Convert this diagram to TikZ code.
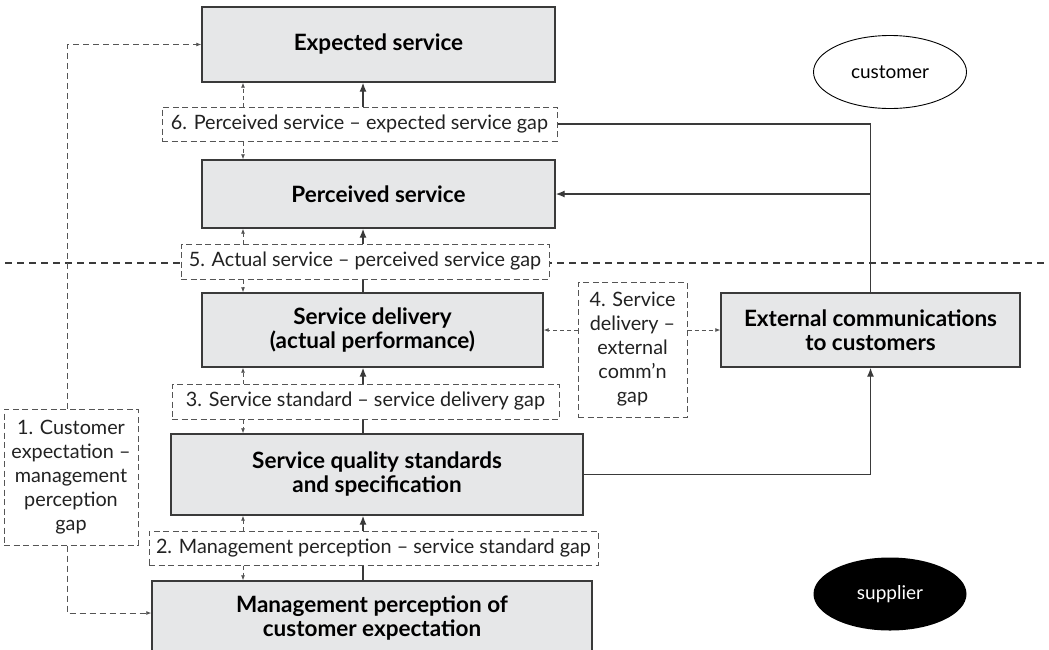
\documentclass[tikz,border=0pt]{standalone}
\usepackage{fontspec}
\setmainfont{Lato}
\usepackage{tikz}
\usetikzlibrary{calc,arrows.meta,shapes.geometric}
\definecolor{ink}{HTML}{222222}
\definecolor{edge}{HTML}{3A3A3A}
\definecolor{boxbg}{HTML}{E6E7E8}
\definecolor{gapline}{HTML}{555555}
\tikzset{
  box/.style={draw=edge, fill=boxbg, line width=1.4pt, align=center, inner sep=0pt, text=black, font=\fontsize{22.5}{24}\selectfont\bfseries},
  gapbox/.style={draw=gapline, fill=white, dash pattern=on 6pt off 3.5pt, line width=1pt, align=center, inner sep=0pt, text=ink, font=\fontsize{19.8}{24}\selectfont},
  flow/.style={draw=edge, line width=1.3pt, -{Latex[length=9pt,width=7pt]}},
  link/.style={draw=edge, line width=1.3pt},
  hint/.style={draw=gapline, line width=0.8pt, dash pattern=on 4pt off 3pt, -{Latex[length=5pt,width=4pt]}},
  gaploop/.style={hint, dash pattern=on 6pt off 4pt},
  party/.style={ellipse, minimum width=153pt, minimum height=73pt, inner sep=0pt, font=\fontsize{19}{22}\selectfont}
}
\begin{document}
\begin{tikzpicture}[x=1pt,y=-1pt]
  \clip (0,0) rectangle (1049,649);
  \fill[white] (0,0) rectangle (1049,649);
  \coordinate (tx) at (243,0);
  \coordinate (sx) at (363,0);
  \draw[edge, line width=2.2pt, dash pattern=on 7pt off 5pt] (5,263) -- (1049,263);

  \node[box, minimum width=353pt, minimum height=75pt] (exp) at (378.5,44.5) {Expected service};
  \node[box, minimum width=353pt, minimum height=68pt] (perc) at (378.5,194) {Perceived service};
  \node[box, minimum width=341pt, minimum height=74pt] (sd) at (372.5,330) {Service delivery\\(actual performance)};
  \node[box, minimum width=412pt, minimum height=81pt] (sqs) at (377,474.5) {Service quality standards\\and specification};
  \node[box, minimum width=440pt, minimum height=75pt] (mpce) at (372,618.5) {Management perception of\\customer expectation};
  \node[box, minimum width=299pt, minimum height=74pt] (ext) at (870.5,330) {External communications\\to customers};

  \node[gapbox, minimum width=395pt, minimum height=34pt] (gap6) at (359.5,124) {6. Perceived service -- expected service gap};
  \node[gapbox, minimum width=368pt, minimum height=35pt] (gap5) at (365,261.5) {5. Actual service -- perceived service gap};
  \node[gapbox, minimum width=387pt, minimum height=35pt] (gap3) at (365.5,401.5) {3. Service standard -- service delivery gap};
  \node[gapbox, minimum width=449pt, minimum height=34pt] (gap2) at (373.5,548) {2. Management perception -- service standard gap};
  \node[gapbox, minimum width=134pt, minimum height=136pt] (gap1) at (71,477) {1. Customer\\expectation --\\management\\perception\\gap};
  \node[gapbox, minimum width=109pt, minimum height=135pt] (gap4) at (632.5,349.5) {4. Service\\delivery --\\external\\comm’n\\gap};

  \node[party, draw=black, line width=0.9pt] (cust) at (890,72) {customer};
  \node[party, fill=black, text=white] (supp) at (890,594) {supplier};

  \foreach \g/\u/\l in {gap6/exp/perc, gap5/perc/sd, gap3/sd/sqs, gap2/sqs/mpce} {
    \draw[hint] (\g.north -| tx) -- (\u.south -| tx);
    \draw[hint] (\g.south -| tx) -- (\l.north -| tx);
    \draw[flow] (\g.north -| sx) -- (\u.south -| sx);
  }
  \foreach \g/\l in {gap5/sd, gap3/sqs, gap2/mpce}
    \draw[link] (\l.north -| sx) -- (\g.south -| sx);

  \draw[link] (ext.north) |- (gap6.east);
  \draw[flow] (ext.north |- perc.east) -- (perc.east);
  \draw[flow] (sqs.east) -| (ext.south);
  \draw[hint] (gap4.west |- sd.east) -- (sd.east);
  \draw[hint] (gap4.east |- ext.west) -- (ext.west);
  \draw[gaploop] ([xshift=-4pt]gap1.north) |- (exp.west);
  \draw[gaploop] ([xshift=-4pt]gap1.south) |- ([yshift=5.5pt]mpce.west);
\end{tikzpicture}
\end{document}
